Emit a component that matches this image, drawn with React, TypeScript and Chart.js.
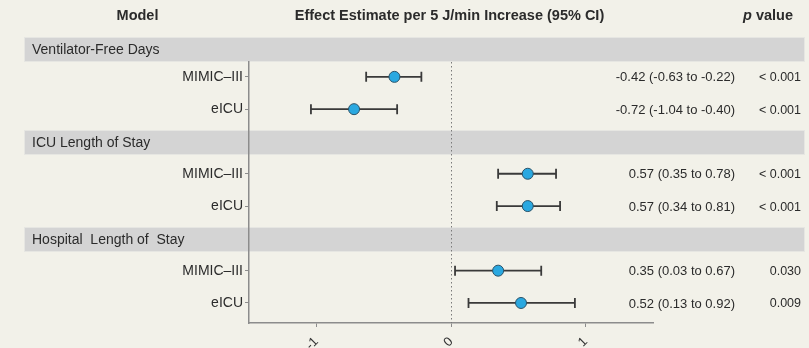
import React, { useEffect, useRef } from "react";
import { Chart, registerables } from "chart.js";

Chart.register(...registerables);

// Forest plot: effect estimate per 5 J/min increase with 95% CI
const groupNames = ["Ventilator-Free Days", "ICU Length of Stay", "Hospital  Length of  Stay"];
const cohorts = ["MIMIC\u2013III", "eICU"];
const estimates = [-0.42, -0.72, 0.57, 0.57, 0.35, 0.52];
const lowerCI = [-0.63, -1.04, 0.35, 0.34, 0.03, 0.13];
const upperCI = [-0.22, -0.4, 0.78, 0.81, 0.67, 0.92];
const pValues = ["< 0.001", "< 0.001", "< 0.001", "< 0.001", "0.030", "0.009"];
const xTicks = [-1, 0, 1];

const W = 809;
const H = 348;
const FONT = "'Liberation Sans', Arial, sans-serif";
const BG = "#f2f1e9";
const BAND = "#d4d4d4";
const TEXT = "#2b2b2b";
const AXIS = "#8c8c8c";
const BAND_H = 25;

// each group takes three slots: header band, then one row per cohort
const rowSlot = (i: number) => Math.floor(i / cohorts.length) * 3 + 1 + (i % cohorts.length);
const rowSlots = estimates.map((_, i) => rowSlot(i));
const rowLabel = (i: number) => cohorts[i % cohorts.length];
const fmt = (v: number) => v.toFixed(2);

const forestPlugin = {
  id: "forest",
  beforeDraw(chart: any) {
    const { ctx, chartArea } = chart;
    const y = chart.scales.y;
    ctx.save();
    ctx.fillStyle = BG;
    ctx.fillRect(0, 0, W, H);
    groupNames.forEach((name, g) => {
      // the first band sits right on top of the plot area
      const top =
        g === 0 ? chartArea.top - BAND_H : Math.round(y.getPixelForValue(g * 3) + 1 - BAND_H / 2);
      const bottom = top + BAND_H;
      ctx.fillStyle = BAND;
      ctx.fillRect(24, top, 781, BAND_H);
      ctx.strokeStyle = "#e6e6e2";
      ctx.lineWidth = 1;
      ctx.strokeRect(24.5, top + 0.5, 780, BAND_H - 1);
      ctx.fillStyle = TEXT;
      ctx.font = `14px ${FONT}`;
      ctx.textAlign = "left";
      ctx.textBaseline = "middle";
      ctx.fillText(name, 32, (top + bottom) / 2 + 1);
    });
    ctx.restore();
  },
  beforeDatasetsDraw(chart: any) {
    const { ctx, chartArea } = chart;
    const x = chart.scales.x;
    const y = chart.scales.y;
    ctx.save();
    // reference line at zero
    const x0 = Math.round(x.getPixelForValue(0)) + 0.5;
    ctx.strokeStyle = "#7a7a7a";
    ctx.lineWidth = 1;
    ctx.setLineDash([1.5, 2.5]);
    ctx.beginPath();
    ctx.moveTo(x0, chartArea.top);
    ctx.lineTo(x0, chartArea.bottom);
    ctx.stroke();
    ctx.setLineDash([]);
    // confidence intervals
    ctx.strokeStyle = "#3a3a3a";
    ctx.lineWidth = 1.8;
    estimates.forEach((_, i) => {
      const py = y.getPixelForValue(rowSlots[i]);
      const xl = x.getPixelForValue(lowerCI[i]);
      const xu = x.getPixelForValue(upperCI[i]);
      ctx.beginPath();
      ctx.moveTo(xl, py);
      ctx.lineTo(xu, py);
      ctx.moveTo(xl, py - 5);
      ctx.lineTo(xl, py + 5);
      ctx.moveTo(xu, py - 5);
      ctx.lineTo(xu, py + 5);
      ctx.stroke();
    });
    ctx.restore();
  },
  afterDraw(chart: any) {
    const { ctx } = chart;
    const y = chart.scales.y;
    ctx.save();
    ctx.fillStyle = TEXT;
    ctx.textBaseline = "middle";
    // column headers
    const hFont = `bold 14.5px ${FONT}`;
    const hItalic = `italic bold 14.5px ${FONT}`;
    ctx.font = hFont;
    ctx.textAlign = "center";
    ctx.fillText("Model", 137.5, 16);
    ctx.fillText("Effect Estimate per 5 J/min Increase (95% CI)", 449.5, 16);
    ctx.textAlign = "left";
    ctx.font = hItalic;
    const pw = ctx.measureText("p").width;
    ctx.font = hFont;
    const vw = ctx.measureText(" value").width;
    const startX = 768 - (pw + vw) / 2;
    ctx.font = hItalic;
    ctx.fillText("p", startX, 16);
    ctx.font = hFont;
    ctx.fillText(" value", startX + pw, 16);
    // estimate and p value columns
    ctx.textAlign = "right";
    estimates.forEach((est, i) => {
      const py = y.getPixelForValue(rowSlots[i]) + 1;
      ctx.font = `13px ${FONT}`;
      ctx.fillText(`${fmt(est)} (${fmt(lowerCI[i])} to ${fmt(upperCI[i])})`, 735, py);
      ctx.font = `12.5px ${FONT}`;
      ctx.fillText(pValues[i], 801, py);
    });
    ctx.restore();
  },
};

export default function App() {
  const ref = useRef<HTMLCanvasElement | null>(null);

  useEffect(() => {
    if (!ref.current) return;
    const chart = new Chart(ref.current, {
      type: "scatter",
      data: {
        datasets: [
          {
            data: estimates.map((v, i) => ({ x: v, y: rowSlots[i] })),
            pointRadius: 5.5,
            pointHoverRadius: 5.5,
            backgroundColor: "#2aa8e0",
            borderColor: "#2b5369",
            borderWidth: 1,
          },
        ],
      },
      options: {
        responsive: false,
        animation: false,
        events: [],
        layout: { padding: { top: 62, right: 156, bottom: 0, left: 0 } },
        plugins: { legend: { display: false }, tooltip: { enabled: false } },
        scales: {
          x: {
            type: "linear",
            min: -1.5,
            max: 1.5,
            afterBuildTicks: (s: any) => {
              s.ticks = xTicks.map((v) => ({ value: v }));
            },
            afterFit: (s: any) => {
              s.height = 25;
            },
            grid: { drawOnChartArea: false, drawTicks: true, tickLength: 4, color: AXIS },
            border: { color: AXIS, width: 1.5 },
            ticks: {
              minRotation: 45,
              maxRotation: 45,
              padding: 7,
              color: "#333",
              font: { family: FONT, size: 13 },
              callback: (v: any) => String(v),
            },
          },
          y: {
            type: "linear",
            reverse: true,
            min: 0.54,
            max: 8.62,
            afterBuildTicks: (s: any) => {
              s.ticks = rowSlots.map((v) => ({ value: v }));
            },
            afterFit: (s: any) => {
              s.width = 249;
            },
            grid: { drawOnChartArea: false, drawTicks: true, tickLength: 4, color: AXIS },
            border: { color: AXIS, width: 1.5 },
            ticks: {
              padding: 2,
              color: TEXT,
              font: { family: FONT, size: 14 },
              callback: (v: any) => {
                const i = rowSlots.indexOf(Number(v));
                return i >= 0 ? rowLabel(i) : "";
              },
            },
          },
        },
      },
      plugins: [forestPlugin],
    } as any);
    return () => chart.destroy();
  }, []);

  return (
    <div style={{ position: "fixed", left: 0, top: 0, width: W, height: H, background: BG }}>
      <canvas ref={ref} width={W} height={H} style={{ display: "block" }} />
    </div>
  );
}
